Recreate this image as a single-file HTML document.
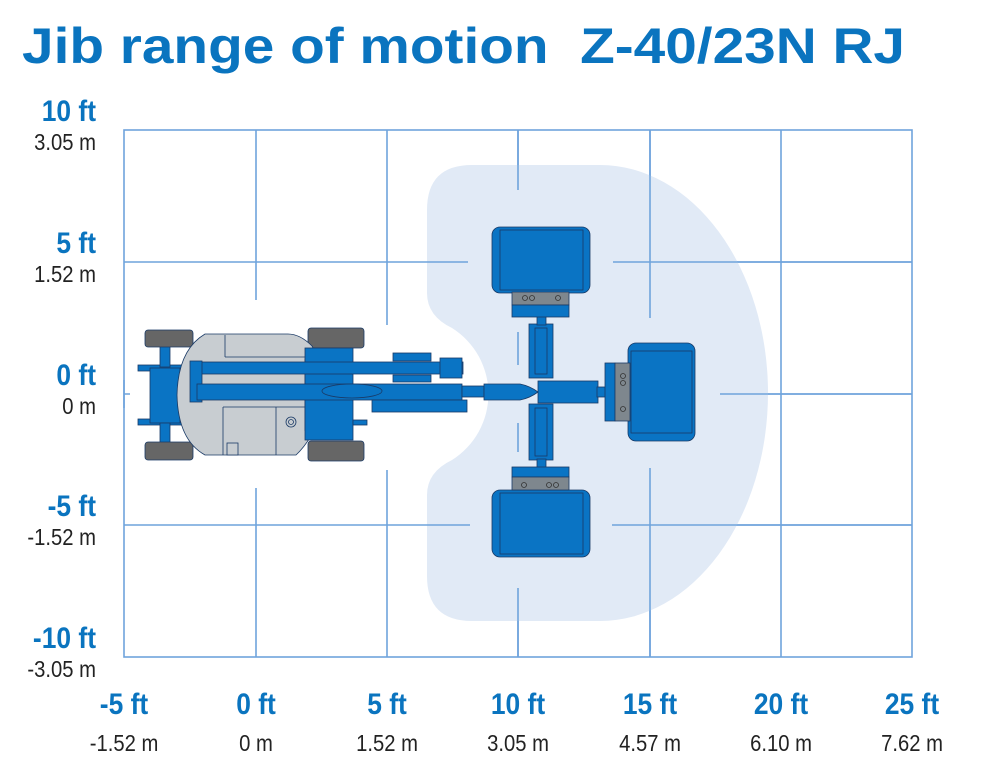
<!DOCTYPE html>
<html><head><meta charset="utf-8"><style>
html,body{margin:0;padding:0;background:#fff;}
svg{display:block;}
.t{font-family:"Liberation Sans",sans-serif;}
.ft{font-family:"Liberation Sans",sans-serif;font-weight:bold;fill:#0a74bf;font-size:30px;}
.m{font-family:"Liberation Sans",sans-serif;fill:#222;font-size:23px;}
</style></head><body>
<svg width="985" height="762" viewBox="0 0 985 762" xmlns="http://www.w3.org/2000/svg">
<text class="t" x="22" y="63" font-size="50" font-weight="bold" fill="#0a74bf" textLength="883" lengthAdjust="spacingAndGlyphs">Jib range of motion&#160;&#160;Z-40/23N RJ</text>

<g stroke="#6fa3dc" stroke-width="1.6" fill="none">
<rect x="124" y="130" width="788" height="527"/>
<line x1="256" y1="130" x2="256" y2="657"/>
<line x1="387" y1="130" x2="387" y2="657"/>
<line x1="518" y1="130" x2="518" y2="657"/>
<line x1="650" y1="130" x2="650" y2="657"/>
<line x1="781" y1="130" x2="781" y2="657"/>
<line x1="124" y1="262" x2="912" y2="262"/>
<line x1="124" y1="394" x2="912" y2="394"/>
<line x1="124" y1="525" x2="912" y2="525"/>
</g>
<g fill="#fff">
<rect x="250" y="300" width="12" height="188"/>
<rect x="381" y="325" width="12" height="145"/>
<rect x="130" y="380" width="300" height="28"/>
</g>
<path d="M472,165 L600,165 A168,228 0 0 1 600,621 L472,621 Q427,621 427,576 L427,495 Q427,472 452,460 A78,78 0 0 0 452,328 Q427,316 427,293 L427,210 Q427,165 472,165 Z" fill="#e1eaf6"/>
<g stroke="#6fa3dc" stroke-width="1.6">
<line x1="518" y1="130" x2="518" y2="190"/>
<line x1="518" y1="588" x2="518" y2="657"/>
<line x1="518" y1="332" x2="518" y2="365"/>
<line x1="518" y1="423" x2="518" y2="452"/>
<line x1="650" y1="130" x2="650" y2="318"/>
<line x1="650" y1="468" x2="650" y2="657"/>
<line x1="427" y1="262" x2="468" y2="262"/>
<line x1="613" y1="262" x2="912" y2="262"/>
<line x1="427" y1="525" x2="470" y2="525"/>
<line x1="612" y1="525" x2="912" y2="525"/>
<line x1="720" y1="394" x2="912" y2="394"/>
<line x1="124" y1="380" x2="124" y2="408"/>
</g>

<g stroke="#1a3a66" stroke-width="0.8">
<rect x="138" y="365" width="45" height="6" fill="#0a74c4"/>
<rect x="138" y="419" width="45" height="6" fill="#0a74c4"/>
<rect x="150" y="368" width="30" height="55" fill="#0a74c4"/>
<rect x="160" y="345" width="10" height="22" fill="#0a74c4"/>
<rect x="160" y="423" width="10" height="20" fill="#0a74c4"/>
<rect x="145" y="330" width="48" height="17" rx="3" fill="#666"/>
<rect x="145" y="442" width="48" height="18" rx="3" fill="#666"/>
<rect x="308" y="328" width="56" height="20" rx="3" fill="#666"/>
<rect x="308" y="441" width="56" height="20" rx="3" fill="#666"/>
<path d="M205,334 L288,334 Q300,334 312,346 L318,357 L305,359 L305,430 L322,412 Q312,440 296,455 L205,455 Q178,440 177,395 Q178,350 205,334 Z" fill="#c8cdd1"/>
<line x1="225" y1="335" x2="225" y2="357" />
<line x1="225" y1="357" x2="305" y2="357"/>
<line x1="223" y1="407" x2="223" y2="455"/>
<line x1="223" y1="407" x2="310" y2="407"/>
<line x1="276" y1="407" x2="276" y2="455"/>
<rect x="227" y="443" width="11" height="12" fill="#c8cdd1"/>
<circle cx="291" cy="422" r="5" fill="none"/>
<circle cx="291" cy="422" r="2.5" fill="none"/>
<rect x="305" y="348" width="48" height="92" fill="#0a74c4"/>
<rect x="353" y="420" width="14" height="5" fill="#0a74c4"/>
<rect x="193" y="362" width="270" height="12" fill="#0a74c4"/>
<rect x="393" y="353" width="38" height="8" fill="#0a74c4"/>
<rect x="393" y="375" width="38" height="7" fill="#0a74c4"/>
<rect x="440" y="358" width="22" height="20" fill="#0a74c4"/>
<rect x="190" y="361" width="12" height="41" fill="#0a74c4"/>
<rect x="197" y="384" width="265" height="16" fill="#0a74c4"/>
<ellipse cx="352" cy="391" rx="30" ry="7" fill="#0a74c4"/>
<rect x="372" y="400" width="95" height="12" fill="#0a74c4"/>
<rect x="462" y="386" width="22" height="11" fill="#0a74c4"/>
<path d="M484,384 L520,384 Q530,386 538,392 Q530,398 520,400 L484,400 Z" fill="#0a74c4"/>
<rect x="529" y="324" width="24" height="54" fill="#0a74c4"/>
<rect x="535" y="328" width="12" height="46" fill="#0a74c4"/>
<rect x="529" y="404" width="24" height="56" fill="#0a74c4"/>
<rect x="535" y="408" width="12" height="48" fill="#0a74c4"/>
<rect x="537" y="316" width="9" height="9" fill="#0a74c4"/>
<rect x="537" y="459" width="9" height="9" fill="#0a74c4"/>
<rect x="538" y="381" width="60" height="22" fill="#0a74c4"/>
<rect x="597" y="387" width="9" height="10" fill="#0a74c4"/>
<rect x="492" y="227" width="98" height="66" rx="8" fill="#0a74c4"/>
<rect x="500" y="230" width="83" height="60" fill="#0a74c4"/>
<rect x="512" y="292" width="57" height="13" fill="#7e878e"/>
<rect x="512" y="305" width="57" height="12" fill="#0a74c4"/>
<rect x="492" y="490" width="98" height="67" rx="8" fill="#0a74c4"/>
<rect x="500" y="493" width="83" height="61" fill="#0a74c4"/>
<rect x="512" y="467" width="57" height="10" fill="#0a74c4"/>
<rect x="512" y="477" width="57" height="13" fill="#7e878e"/>
<rect x="628" y="343" width="67" height="98" rx="8" fill="#0a74c4"/>
<rect x="631" y="351" width="61" height="82" fill="#0a74c4"/>
<rect x="605" y="363" width="10" height="58" fill="#0a74c4"/>
<rect x="615" y="363" width="15" height="58" fill="#7e878e"/>
</g>
<g fill="none" stroke="#333" stroke-width="0.8">
<circle cx="525" cy="298" r="2.5"/><circle cx="532" cy="298" r="2.5"/><circle cx="558" cy="298" r="2.5"/>
<circle cx="524" cy="485" r="2.5"/><circle cx="549" cy="485" r="2.5"/><circle cx="556" cy="485" r="2.5"/>
<circle cx="623" cy="376" r="2.5"/><circle cx="623" cy="383" r="2.5"/><circle cx="623" cy="409" r="2.5"/>
</g>

<g text-anchor="end">
<g transform="translate(96,0) scale(0.88,1)">
<text class="ft" x="0" y="121">10 ft</text><text class="m" x="0" y="150">3.05 m</text>
<text class="ft" x="0" y="253">5 ft</text><text class="m" x="0" y="282">1.52 m</text>
<text class="ft" x="0" y="385">0 ft</text><text class="m" x="0" y="414">0 m</text>
<text class="ft" x="0" y="516">-5 ft</text><text class="m" x="0" y="545">-1.52 m</text>
<text class="ft" x="0" y="648">-10 ft</text><text class="m" x="0" y="677">-3.05 m</text>
</g>
</g>
<g text-anchor="middle">
<g transform="translate(124,0) scale(0.88,1)"><text class="ft" x="0" y="714">-5 ft</text><text class="m" x="0" y="751">-1.52 m</text></g>
<g transform="translate(256,0) scale(0.88,1)"><text class="ft" x="0" y="714">0 ft</text><text class="m" x="0" y="751">0 m</text></g>
<g transform="translate(387,0) scale(0.88,1)"><text class="ft" x="0" y="714">5 ft</text><text class="m" x="0" y="751">1.52 m</text></g>
<g transform="translate(518,0) scale(0.88,1)"><text class="ft" x="0" y="714">10 ft</text><text class="m" x="0" y="751">3.05 m</text></g>
<g transform="translate(650,0) scale(0.88,1)"><text class="ft" x="0" y="714">15 ft</text><text class="m" x="0" y="751">4.57 m</text></g>
<g transform="translate(781,0) scale(0.88,1)"><text class="ft" x="0" y="714">20 ft</text><text class="m" x="0" y="751">6.10 m</text></g>
<g transform="translate(912,0) scale(0.88,1)"><text class="ft" x="0" y="714">25 ft</text><text class="m" x="0" y="751">7.62 m</text></g>
</g>
</svg>
</body></html>
